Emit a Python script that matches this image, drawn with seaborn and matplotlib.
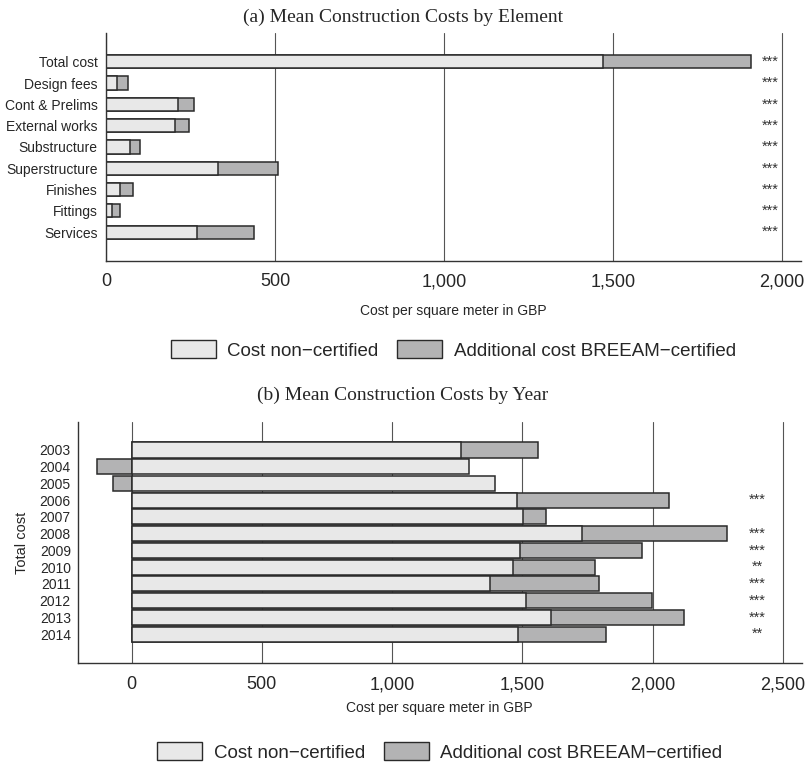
import matplotlib.pyplot as plt
import pandas as pd
import seaborn as sns
from matplotlib.patches import Patch
from matplotlib.ticker import FuncFormatter

# panel (a): mean cost per m2 by building element
elements = [
    "Total cost", "Design fees", "Cont & Prelims", "External works", "Substructure",
    "Superstructure", "Finishes", "Fittings", "Services",
]
element_noncert = [1470, 33, 213, 204, 71, 330, 41, 18, 268]
element_extra = [437, 33, 47, 41, 29, 178, 40, 24, 169]
element_stars = ["***"] * 9

# panel (b): mean total cost per m2 by year
years = ["2003", "2004", "2005", "2006", "2007", "2008",
         "2009", "2010", "2011", "2012", "2013", "2014"]
year_noncert = [1265, 1296, 1395, 1480, 1502, 1727, 1490, 1464, 1375, 1512, 1609, 1482]
year_extra = [294, -132, -73, 581, 89, 558, 468, 315, 419, 484, 510, 338]
year_stars = ["", "", "", "***", "", "***", "***", "**", "***", "***", "***", "**"]

legend_labels = ["Cost non\u2212certified", "Additional cost BREEAM\u2212certified"]

LIGHT = "#e8e8e8"
DARK = "#b3b3b4"
EDGE = "#2a2a2a"
GRID = "#555555"

sns.set_style("white")
plt.rcParams["font.family"] = ["Liberation Sans", "DejaVu Sans"]


def draw_panel(ax, cats, noncert, extra, stars, bar_width, star_x):
    df = pd.DataFrame({"cat": cats, "noncert": noncert, "extra": extra})
    # stack like ggplot: positive extras sit after the base, negative ones go left of zero
    df["dark_end"] = [n + e if e > 0 else e for n, e in zip(df["noncert"], df["extra"])]
    common = dict(y="cat", orient="h", order=cats, width=bar_width, saturation=1,
                  edgecolor=EDGE, linewidth=1.1, errorbar=None, ax=ax)
    sns.barplot(data=df, x="dark_end", color=DARK, **common)
    sns.barplot(data=df, x="noncert", color=LIGHT, **common)
    for i, s in enumerate(stars):
        if s:
            ax.text(star_x, i, s, ha="center", va="center", fontsize=10.5, color="#333333")

    ax.set_axisbelow(True)
    ax.grid(axis="x", color=GRID, linewidth=0.8)
    ax.grid(axis="y", visible=False)
    for side in ["top", "right"]:
        ax.spines[side].set_visible(False)
    for side in ["left", "bottom"]:
        ax.spines[side].set_color("#333333")
        ax.spines[side].set_linewidth(1.0)
    ax.xaxis.set_major_formatter(FuncFormatter(lambda v, p: f"{v:,.0f}"))
    ax.set_ylabel("")


fig = plt.figure(figsize=(8.06, 7.63), dpi=100)

ax1 = fig.add_axes([0.1315, 0.6583, 0.8623, 0.2984])
draw_panel(ax1, elements, element_noncert, element_extra, element_stars, 0.62, 1964)
ax1.set_xlim(0, 2056)
ax1.set_ylim(9.34, -1.35)
ax1.set_xticks([0, 500, 1000, 1500, 2000])
ax1.tick_params(axis="x", length=4.5, width=0.8, color="#333333", pad=4.5, labelsize=13)
ax1.tick_params(axis="y", length=0, pad=6, labelsize=10)
ax1.set_xlabel("Cost per square meter in GBP", fontsize=10, labelpad=10)

ax2 = fig.add_axes([0.0964, 0.1311, 0.8982, 0.3158])
draw_panel(ax2, years, year_noncert, year_extra, year_stars, 0.9, 2401)
ax2.set_xlim(-207, 2572)
ax2.set_ylim(12.72, -1.67)
ax2.set_xticks([0, 500, 1000, 1500, 2000, 2500])
ax2.tick_params(axis="x", length=6.5, width=0.8, color="#333333", pad=3, labelsize=13)
ax2.tick_params(axis="y", length=0, pad=5, labelsize=10)
ax2.set_xlabel("Cost per square meter in GBP", fontsize=10, labelpad=6)
ax2.set_ylabel("Total cost", fontsize=10.5, labelpad=8)

fig.text(0.5, 0.9777, "(a) Mean Construction Costs by Element",
         ha="center", va="center", fontsize=14, family="Liberation Serif")
fig.text(0.5, 0.4823, "(b) Mean Construction Costs by Year",
         ha="center", va="center", fontsize=14, family="Liberation Serif")

handles = [Patch(facecolor=LIGHT, edgecolor=EDGE, linewidth=1.0),
           Patch(facecolor=DARK, edgecolor=EDGE, linewidth=1.0)]
legend_kw = dict(loc="center", ncol=2, frameon=False, fontsize=13.5,
                 handlelength=2.4, handleheight=1.1, columnspacing=1.0, handletextpad=0.6)
fig.legend(handles, legend_labels, bbox_to_anchor=(0.5627, 0.5413), **legend_kw)
fig.legend(handles, legend_labels, bbox_to_anchor=(0.5455, 0.0144), **legend_kw)

fig.savefig("out.png", dpi=100)
